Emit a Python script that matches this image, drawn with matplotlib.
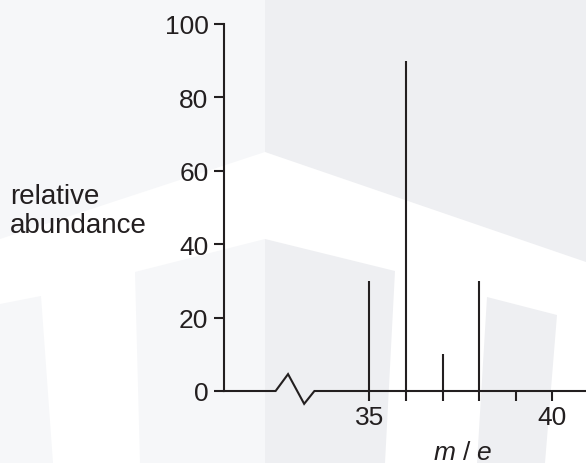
import numpy as np
import matplotlib
matplotlib.use("Agg")
import matplotlib.pyplot as plt
from matplotlib.patches import Polygon

# mass spectrum peaks
mass = [35, 36, 37, 38]
abundance = [30, 90, 10, 30]

y_ticks = [0, 20, 40, 60, 80, 100]
x_major = [35, 40]
x_minor = [36, 37, 38, 39]

ink = '#231f20'
light = '#f6f7f9'
dark = '#eeeff2'

plt.rcParams['font.family'] = ['Liberation Sans', 'DejaVu Sans']
plt.rcParams['mathtext.fontset'] = 'custom'
plt.rcParams['mathtext.it'] = 'Liberation Sans:italic'
plt.rcParams['mathtext.rm'] = 'Liberation Sans'


def draw_background(fig):
    # faint logo shapes behind the plot, in pixel units
    bg = fig.add_axes([0, 0, 1, 1])
    bg.set_xlim(0, 586)
    bg.set_ylim(464, 0)
    bg.axis('off')
    shapes = [
        ([(0, 0), (265, 0), (265, 153), (0, 240)], light),
        ([(265, 0), (586, 0), (586, 263), (265, 153)], dark),
        ([(135, 273), (265, 240), (265, 464), (140, 464)], light),
        ([(265, 240), (395, 272), (385, 464), (265, 464)], dark),
        ([(0, 305), (41, 297), (53, 464), (0, 464)], light),
        ([(487, 298), (557, 316), (545, 464), (477, 464)], dark),
    ]
    for pts, col in shapes:
        bg.add_patch(Polygon(pts, closed=True, facecolor=col, edgecolor='none'))


def create_spectrum():
    fig = plt.figure(figsize=(5.86, 4.64), dpi=100)
    fig.patch.set_facecolor('white')
    draw_background(fig)

    ax = fig.add_axes([224 / 586, 72 / 464, 362 / 586, 367 / 464])
    ax.patch.set_alpha(0)
    ax.set_xlim(31.03, 40.92)
    ax.set_ylim(0, 100)

    ax.vlines(mass, 0, abundance, color=ink, linewidth=1.5)

    # baseline with a break symbol before the first tick
    bx = [31.03, 32.44, 32.78, 33.22, 33.5, 40.92]
    by = [0, 0, 4.6, -3.5, 0, 0]
    ax.plot(bx, by, color=ink, linewidth=1.5, clip_on=False,
            solid_joinstyle='miter')

    for s in ['top', 'right', 'bottom']:
        ax.spines[s].set_visible(False)
    ax.spines['left'].set_color(ink)
    ax.spines['left'].set_linewidth(1.5)

    ax.set_yticks(y_ticks)
    ax.set_xticks(x_major)
    ax.set_xticks(x_minor, minor=True)
    ax.tick_params(axis='both', which='both', direction='out', length=7.2,
                   width=1.5, color=ink, labelcolor=ink, labelsize=19)
    ax.tick_params(axis='y', pad=4)
    ax.tick_params(axis='x', pad=3)

    fig.text(463 / 586, 4 / 464, r'$m$ / $e$', fontsize=19, color=ink,
             ha='center', va='baseline')
    fig.text(10 / 586, 231 / 464, 'relative\nabundance', fontsize=20,
             color=ink, ha='left', va='baseline', linespacing=1.15)

    plt.savefig('out.png', dpi=100)


create_spectrum()
